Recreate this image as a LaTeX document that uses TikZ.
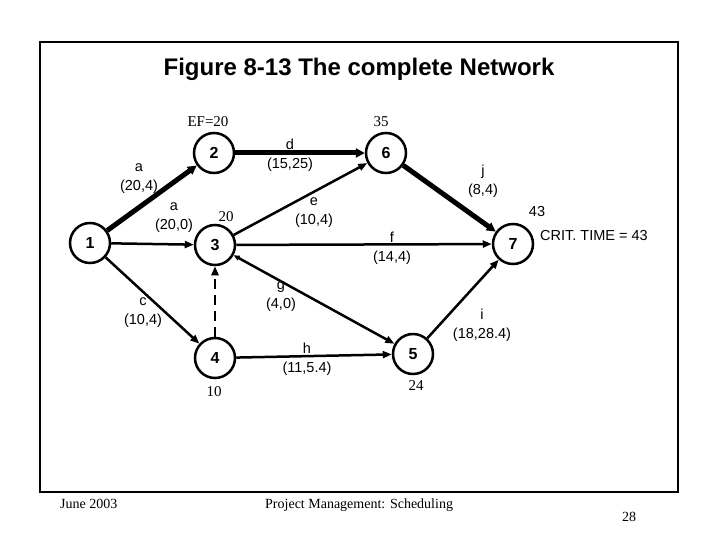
\documentclass[tikz,border=0pt]{standalone}
\usepackage{fontspec}
\setmainfont{Liberation Serif}
\setsansfont{Liberation Sans}
\usetikzlibrary{arrows.meta}
\begin{document}
\begin{tikzpicture}[x=1pt,y=-1pt,
  ev/.style={circle,draw,line width=2.5pt,minimum size=40pt,inner sep=0pt,
    font=\sffamily\bfseries\fontsize{16}{16}\selectfont},
  act/.style={line width=2.5pt,-{Triangle[length=9pt,width=7pt]}},
  crit/.style={line width=5pt,-{Triangle[length=9pt,width=9pt]}},
  dum/.style={act,dash pattern=on 10pt off 6pt},
  lbl/.style={align=center,inner sep=0pt,
    font=\sffamily\fontsize{14.5}{19}\selectfont},
  num/.style={inner sep=0pt,font=\fontsize{15}{15}\selectfont},
  snum/.style={inner sep=0pt,font=\sffamily\fontsize{14.5}{14.5}\selectfont}]
\useasboundingbox (0,0) rectangle (720,540);
\fill[white] (0,0) rectangle (720,540);
\draw[line width=1.5pt] (40,42) rectangle (678,492);
\node[anchor=base,inner sep=0pt,font=\sffamily\bfseries\fontsize{24}{24}\selectfont] (title) at (359,76) {Figure 8-13 The complete Network};

% events
\node[ev] (n1) at (90,243) {1};
\node[ev] (n2) at (214,153) {2};
\node[ev] (n3) at (215,245) {3};
\node[ev] (n4) at (215,358) {4};
\node[ev] (n5) at (413,354) {5};
\node[ev] (n6) at (386,153) {6};
\node[ev] (n7) at (513,244) {7};

% activities
\draw[crit] (n1) -- (n2);
\draw[act] (n1) -- (n3);
\draw[act] (n1) -- (n4);
\draw[dum] (n4) -- (n3);
\draw[crit] (n2) -- (n6);
\draw[act] (n3) -- (n6);
\draw[act] (n3) -- (n7);
\draw[act,{Triangle[length=6pt,width=5pt]}-{Triangle[length=9pt,width=7pt]}] (n3) -- (n5);
\draw[act] (n4) -- (n5);
\draw[act] (n5) -- (n7);
\draw[crit] (n6) -- (n7);

% activity labels
\node[lbl] (la1) at (139,179) {a\\(20,4)};
\node[lbl] (la2) at (174,218) {a\\(20,0)};
\node[lbl] (ld) at (290,155) {d\\(15,25)};
\node[lbl] (le) at (314,213) {e\\(10,4)};
\node[lbl] (lj) at (483,181) {j\\(8,4)};
\node[lbl] (lf) at (392,248) {f\\(14,4)};
\node[lbl] (lg) at (281,297) {g\\(4,0)};
\node[lbl] (lc) at (143,313) {c\\(10,4)};
\node[lbl] (lh) at (307,359) {h\\(11,5.4)};
\node[lbl] (li) at (482,325) {i\\(18,28.4)};

% times
\node[num] (ef) at (208,122) {EF=20};
\node[num] (t6) at (381,122) {35};
\node[num] (t3) at (226,217) {20};
\node[num] (t4) at (214,392) {10};
\node[num] (t5) at (416,386) {24};
\node[snum] (t7) at (537,212) {43};
\node[snum,anchor=west] (crit) at (540,236) {CRIT. TIME = 43};

% footer
\node[anchor=base west,inner sep=0pt,font=\fontsize{14}{14}\selectfont] (f1) at (60,508) {June 2003};
\node[anchor=base west,inner sep=0pt,font=\fontsize{14}{14}\selectfont] (f2) at (265,508) {Project Management: Scheduling};
\node[anchor=base west,inner sep=0pt,font=\fontsize{14}{14}\selectfont] (f3) at (622,521) {28};
\end{tikzpicture}
\end{document}
